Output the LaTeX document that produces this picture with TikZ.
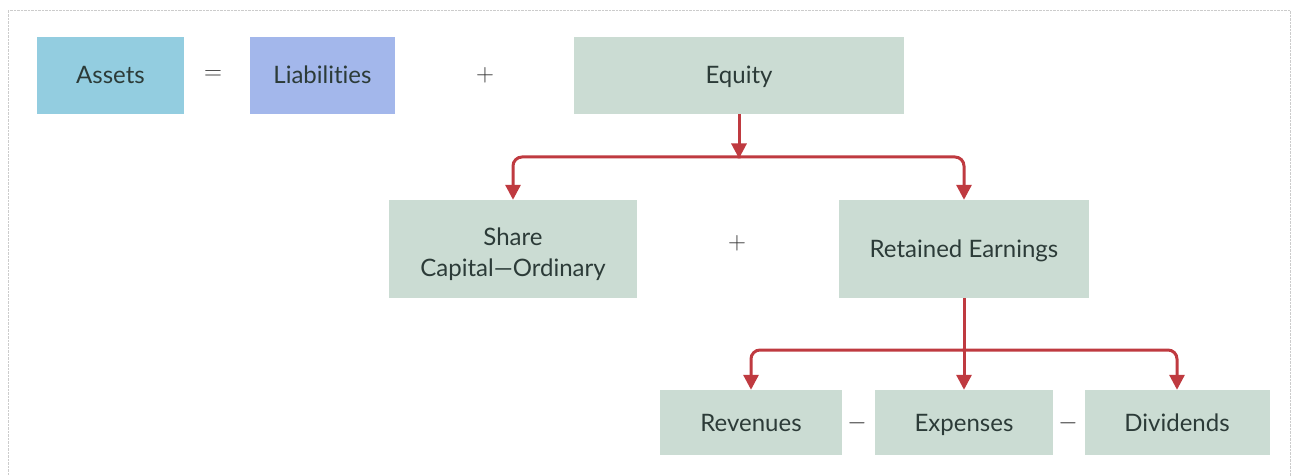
\documentclass[tikz,border=0pt]{standalone}
\usepackage{fontspec}
\setmainfont{Lato}[Ligatures=NoCommon]
\usetikzlibrary{arrows.meta}
\definecolor{assetblue}{HTML}{93CDE0}
\definecolor{liabblue}{HTML}{A3B7EB}
\definecolor{eqgreen}{HTML}{CBDCD3}
\definecolor{flowred}{HTML}{BF3A40}
\definecolor{boxtext}{HTML}{2C3B38}
\tikzset{
	acctbox/.style={rectangle, inner sep=0pt, text=boxtext, align=center, font=\fontsize{24}{31}\selectfont},
	oneline/.style={acctbox, text height=20pt, text depth=3pt},
	flow/.style={line width=3pt, color=flowred, -{Triangle[width=15pt,length=15pt]}},
	trunk/.style={line width=3pt, color=flowred},
	sign/.style={text=black!80, font=\fontsize{28}{28}\selectfont}
}

\begin{document}
\begin{tikzpicture}[x=1pt,y=-1pt]
		%%%%% START %%%%%
		\useasboundingbox (0,0) rectangle (1296,476);
		
		\draw[gray!40, densely dotted] (8,476) -- (8,10) -- (1290,10) -- (1290,476);
		
		% top row
		\node[oneline, fill=assetblue, minimum width=147, minimum height=77] (assets) at (110.5,75.5) {Assets};
		\node[sign] (eqsign) at (213,75) {$=$};
		\node[oneline, fill=liabblue, minimum width=145, minimum height=77] (liab) at (322.5,75.5) {Liabilities};
		\node[sign] (plusA) at (485,75) {$+$};
		\node[oneline, fill=eqgreen, minimum width=330, minimum height=77] (equity) at (739,75.5) {Equity};
		
		% middle row
		\node[acctbox, fill=eqgreen, minimum width=248, minimum height=98] (share) at (513,249) {\rule{0pt}{28pt}Share\\Capital—Ordinary};
		\node[sign] (plusB) at (737,243) {$+$};
		\node[oneline, fill=eqgreen, minimum width=250, minimum height=98] (retained) at (964,249) {Retained Earnings};
		
		% bottom row
		\node[oneline, fill=eqgreen, minimum width=182, minimum height=65] (rev) at (751,422.5) {Revenues};
		\node[sign] (minusA) at (857,423) {$-$};
		\node[oneline, fill=eqgreen, minimum width=178, minimum height=65] (exp) at (964,422.5) {Expenses};
		\node[sign] (minusB) at (1068,423) {$-$};
		\node[oneline, fill=eqgreen, minimum width=185, minimum height=65] (div) at (1177,422.5) {Dividends};
		
		% arrows
		\coordinate (splitA) at (739,157);
		\coordinate (splitB) at (964,350);
		
		\draw[flow] (equity.south) -- ([yshift=-1.5]splitA);
		\draw[flow, rounded corners=9] ([xshift=1.5]splitA) -| (share.north);
		\draw[flow, rounded corners=9] ([xshift=-1.5]splitA) -| (retained.north);
		
		\draw[trunk] (retained.south) -- (splitB);
		\draw[flow, rounded corners=9] ([xshift=1.5]splitB) -| (rev.north);
		\draw[flow] (splitB) -- (exp.north);
		\draw[flow, rounded corners=9] ([xshift=-1.5]splitB) -| (div.north);
		
		%%%%% END %%%%%
	\end{tikzpicture}
\end{document}
